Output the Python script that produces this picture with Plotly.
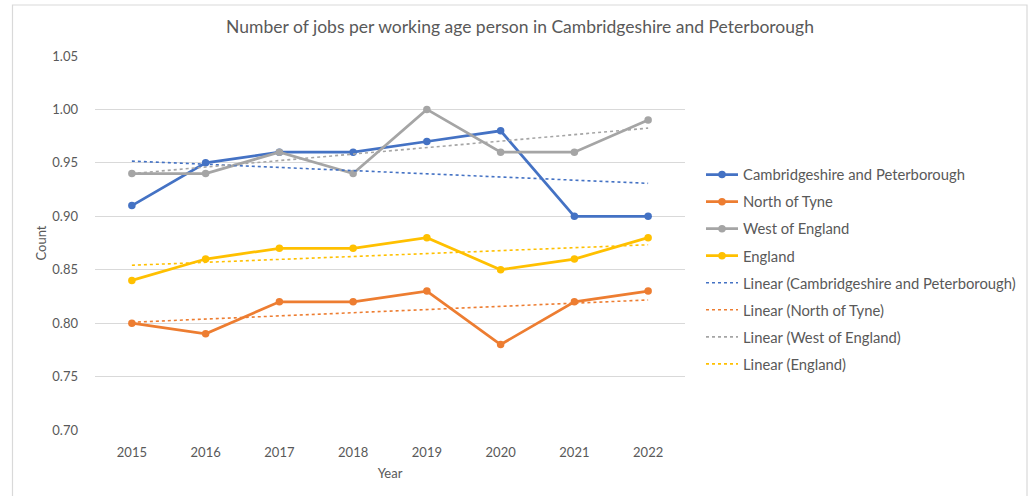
import numpy as np
import plotly.graph_objects as go

years = ["2015", "2016", "2017", "2018", "2019", "2020", "2021", "2022"]
cambs_peterborough = [0.91, 0.95, 0.96, 0.96, 0.97, 0.98, 0.90, 0.90]
north_of_tyne = [0.80, 0.79, 0.82, 0.82, 0.83, 0.78, 0.82, 0.83]
west_of_england = [0.94, 0.94, 0.96, 0.94, 1.00, 0.96, 0.96, 0.99]
england = [0.84, 0.86, 0.87, 0.87, 0.88, 0.85, 0.86, 0.88]

series = [
    ("Cambridgeshire and Peterborough", cambs_peterborough, "#4472C4"),
    ("North of Tyne", north_of_tyne, "#ED7D31"),
    ("West of England", west_of_england, "#A5A5A5"),
    ("England", england, "#FFC000"),
]

FONT = "Lato"
TEXT = "#595959"
GRID = "#D9D9D9"

fig = go.Figure()
idx = np.arange(len(years))

for i, (name, vals, col) in enumerate(series):
    fig.add_trace(go.Scatter(
        x=years, y=vals, name=name, mode="lines+markers",
        line=dict(color=col, width=2.75),
        marker=dict(color=col, size=7.5),
        legendgroup=f"g{i}", legendrank=i,
    ))

# least-squares trend line for each series
for i, (name, vals, col) in enumerate(series):
    slope, intercept = np.polyfit(idx, np.array(vals), 1)
    fig.add_trace(go.Scatter(
        x=years, y=slope * idx + intercept, name=f"Linear ({name})",
        mode="lines", line=dict(color=col, width=1.6, dash="dot"),
        legendgroup=f"t{i}", legendrank=10 + i,
    ))

# outer chart border
L, R, T, B = 95, 685, 56, 430
W, H = R - L, B - T
def px(x):
    return (x - L) / W
def py(y):
    return (B - y) / H

border = dict(type="rect", xref="paper", yref="paper",
              x0=px(12.5), x1=px(1027), y0=py(501), y1=py(5),
              line=dict(color="#D9D9D9", width=1.2), fillcolor="rgba(0,0,0,0)",
              layer="below")

fig.update_layout(
    width=1036, height=496,
    margin=dict(l=L, r=1036 - R, t=T, b=496 - B, pad=0),
    paper_bgcolor="white", plot_bgcolor="white",
    font=dict(family=FONT, color=TEXT, size=13),
    title=dict(text="Number of jobs per working age person in Cambridgeshire and Peterborough",
               x=520 / 1036, xanchor="center", y=1 - 27 / 496, yanchor="middle",
               font=dict(size=17.5, color=TEXT, family=FONT)),
    xaxis=dict(type="category", range=[-0.5, 7.5], showgrid=False, showline=False,
               ticks="", tickfont=dict(size=13, color=TEXT), ticklabelstandoff=13,
               title=dict(text="Year", font=dict(size=13, color=TEXT), standoff=9)),
    yaxis=dict(range=[0.70, 1.05], dtick=0.05, tickformat=".2f", showgrid=True,
               gridcolor=GRID, gridwidth=1.3, zeroline=False, showline=False, ticks="",
               tickfont=dict(size=13, color=TEXT), ticklabelstandoff=16,
               title=dict(text="Count", font=dict(size=13, color=TEXT), standoff=2)),
    legend=dict(x=px(701), xanchor="left", y=py(158.5), yanchor="top",
                traceorder="grouped", tracegroupgap=4.8,
                font=dict(size=14.8, color=TEXT, family=FONT),
                itemwidth=32, bgcolor="rgba(0,0,0,0)"),
    shapes=[border],
    showlegend=True,
)

fig.write_html("out.html")
